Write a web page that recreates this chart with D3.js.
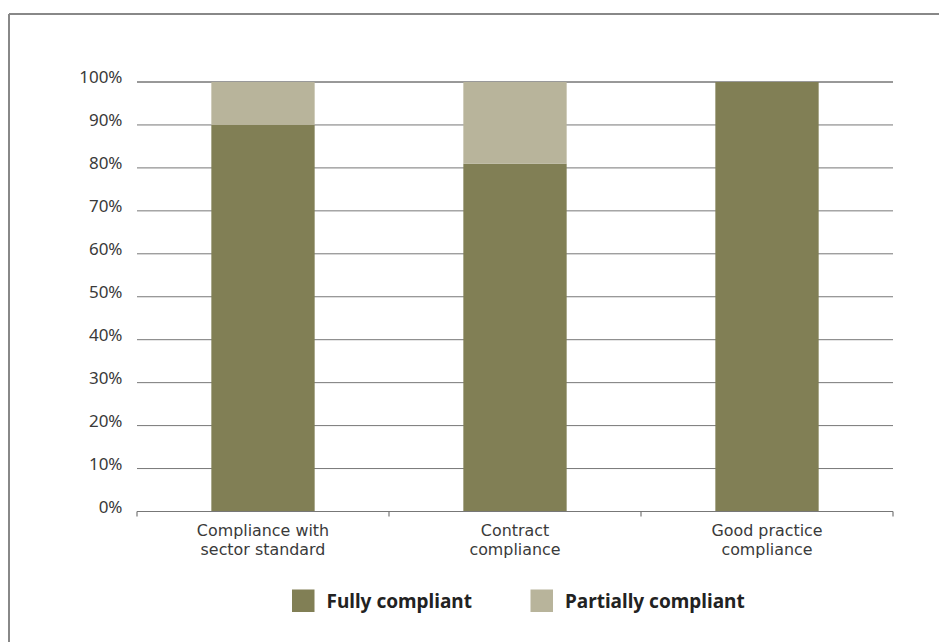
<!DOCTYPE html>
<html>
<head>
<meta charset="utf-8">
<script src="https://cdn.jsdelivr.net/npm/d3@7"></script>
<style>
  html, body { margin: 0; padding: 0; background: #fff; }
  svg { display: block; }
</style>
</head>
<body>
<svg id="chart" width="939" height="642"></svg>
<script>
// Compliance categories (two-line labels) and stacked shares in percent
const categories = ["Compliance with sector standard", "Contract compliance", "Good practice compliance"];
const categoryLines = [["Compliance with", "sector standard"], ["Contract", "compliance"], ["Good practice", "compliance"]];
const fullyCompliant = [90, 81, 100];
const partiallyCompliant = [10, 19, 0];
const seriesNames = ["Fully compliant", "Partially compliant"];
const yTicks = [0, 10, 20, 30, 40, 50, 60, 70, 80, 90, 100];

const colors = { full: "#817f55", partial: "#b8b49b" };
const svg = d3.select("#chart");
const font = "'Noto Sans', 'Open Sans', sans-serif";
const labelFont = "'DejaVu Sans', sans-serif";

// Outer frame: top and left rules
svg.append("line").attr("x1", 9).attr("x2", 939).attr("y1", 14).attr("y2", 14)
  .attr("stroke", "#888").attr("stroke-width", 2);
svg.append("line").attr("x1", 9).attr("x2", 9).attr("y1", 14).attr("y2", 642)
  .attr("stroke", "#888").attr("stroke-width", 2);

const plot = { left: 137, right: 893, top: 82, bottom: 511.5 };

const x = d3.scaleBand().domain(categories)
  .range([plot.left, plot.right])
  .paddingInner(0.59).paddingOuter(0.295);
const y = d3.scaleLinear().domain([0, 100]).range([plot.bottom, plot.top]);

// Horizontal gridlines
const grid = svg.append("g");
grid.selectAll("line").data(yTicks.filter(d => d > 0)).join("line")
  .attr("x1", plot.left).attr("x2", plot.right)
  .attr("y1", d => y(d)).attr("y2", d => y(d))
  .attr("stroke", d => d === 100 ? "#333" : "#777")
  .attr("stroke-width", 1);

// Y tick labels
svg.append("g").selectAll("text").data(yTicks).join("text")
  .attr("x", 122.5).attr("y", d => y(d) + 1.3)
  .attr("text-anchor", "end")
  .attr("font-family", font).attr("font-size", 17).attr("fill", "#3a3a3a")
  .text(d => d + "%");

// Stacked bars
const rows = categories.map((c, i) => ({ cat: c, full: fullyCompliant[i], partial: partiallyCompliant[i] }));
const stack = d3.stack().keys(["full", "partial"])(rows);
svg.append("g").selectAll("g").data(stack).join("g")
  .attr("fill", s => colors[s.key])
  .selectAll("rect").data(s => s).join("rect")
  .attr("x", d => x(d.data.cat))
  .attr("width", x.bandwidth())
  .attr("y", d => y(d[1]))
  .attr("height", d => y(d[0]) - y(d[1]));

// X axis baseline with category boundary ticks
const xAxis = svg.append("g");
xAxis.append("line").attr("x1", plot.left).attr("x2", plot.right)
  .attr("y1", plot.bottom).attr("y2", plot.bottom)
  .attr("stroke", "#777").attr("stroke-width", 1.2);
const boundaries = [plot.left].concat(categories.map(c => x(c) + x.bandwidth() + x.step() * x.paddingInner() / 2));
boundaries[boundaries.length - 1] = plot.right;
xAxis.selectAll(".tick").data(boundaries).join("line")
  .attr("x1", d => d).attr("x2", d => d)
  .attr("y1", plot.bottom).attr("y2", plot.bottom + 5)
  .attr("stroke", "#777").attr("stroke-width", 1.2);

// Category labels, one text element per line
const labelLines = categories.flatMap((c, i) =>
  categoryLines[i].map((t, j) => ({ cat: c, text: t, line: j })));
svg.append("g").selectAll("text").data(labelLines).join("text")
  .attr("x", d => x(d.cat) + x.bandwidth() / 2)
  .attr("y", d => 536 + d.line * 19)
  .attr("text-anchor", "middle")
  .attr("font-family", labelFont).attr("font-size", 15.9).attr("fill", "#3a3a3a")
  .text(d => d.text);

// Legend
const legendItems = [
  { name: seriesNames[0], color: colors.full, x: 292 },
  { name: seriesNames[1], color: colors.partial, x: 530.5 }
];
const legend = svg.append("g").selectAll("g").data(legendItems).join("g")
  .attr("transform", d => `translate(${d.x},589.5)`);
legend.append("rect").attr("width", 22.5).attr("height", 22.5).attr("fill", d => d.color);
legend.append("text").attr("x", 34.5).attr("y", 18.3)
  .attr("font-family", font).attr("font-size", 19).attr("font-weight", "bold")
  .attr("fill", "#222")
  .text(d => d.name);
</script>
</body>
</html>
